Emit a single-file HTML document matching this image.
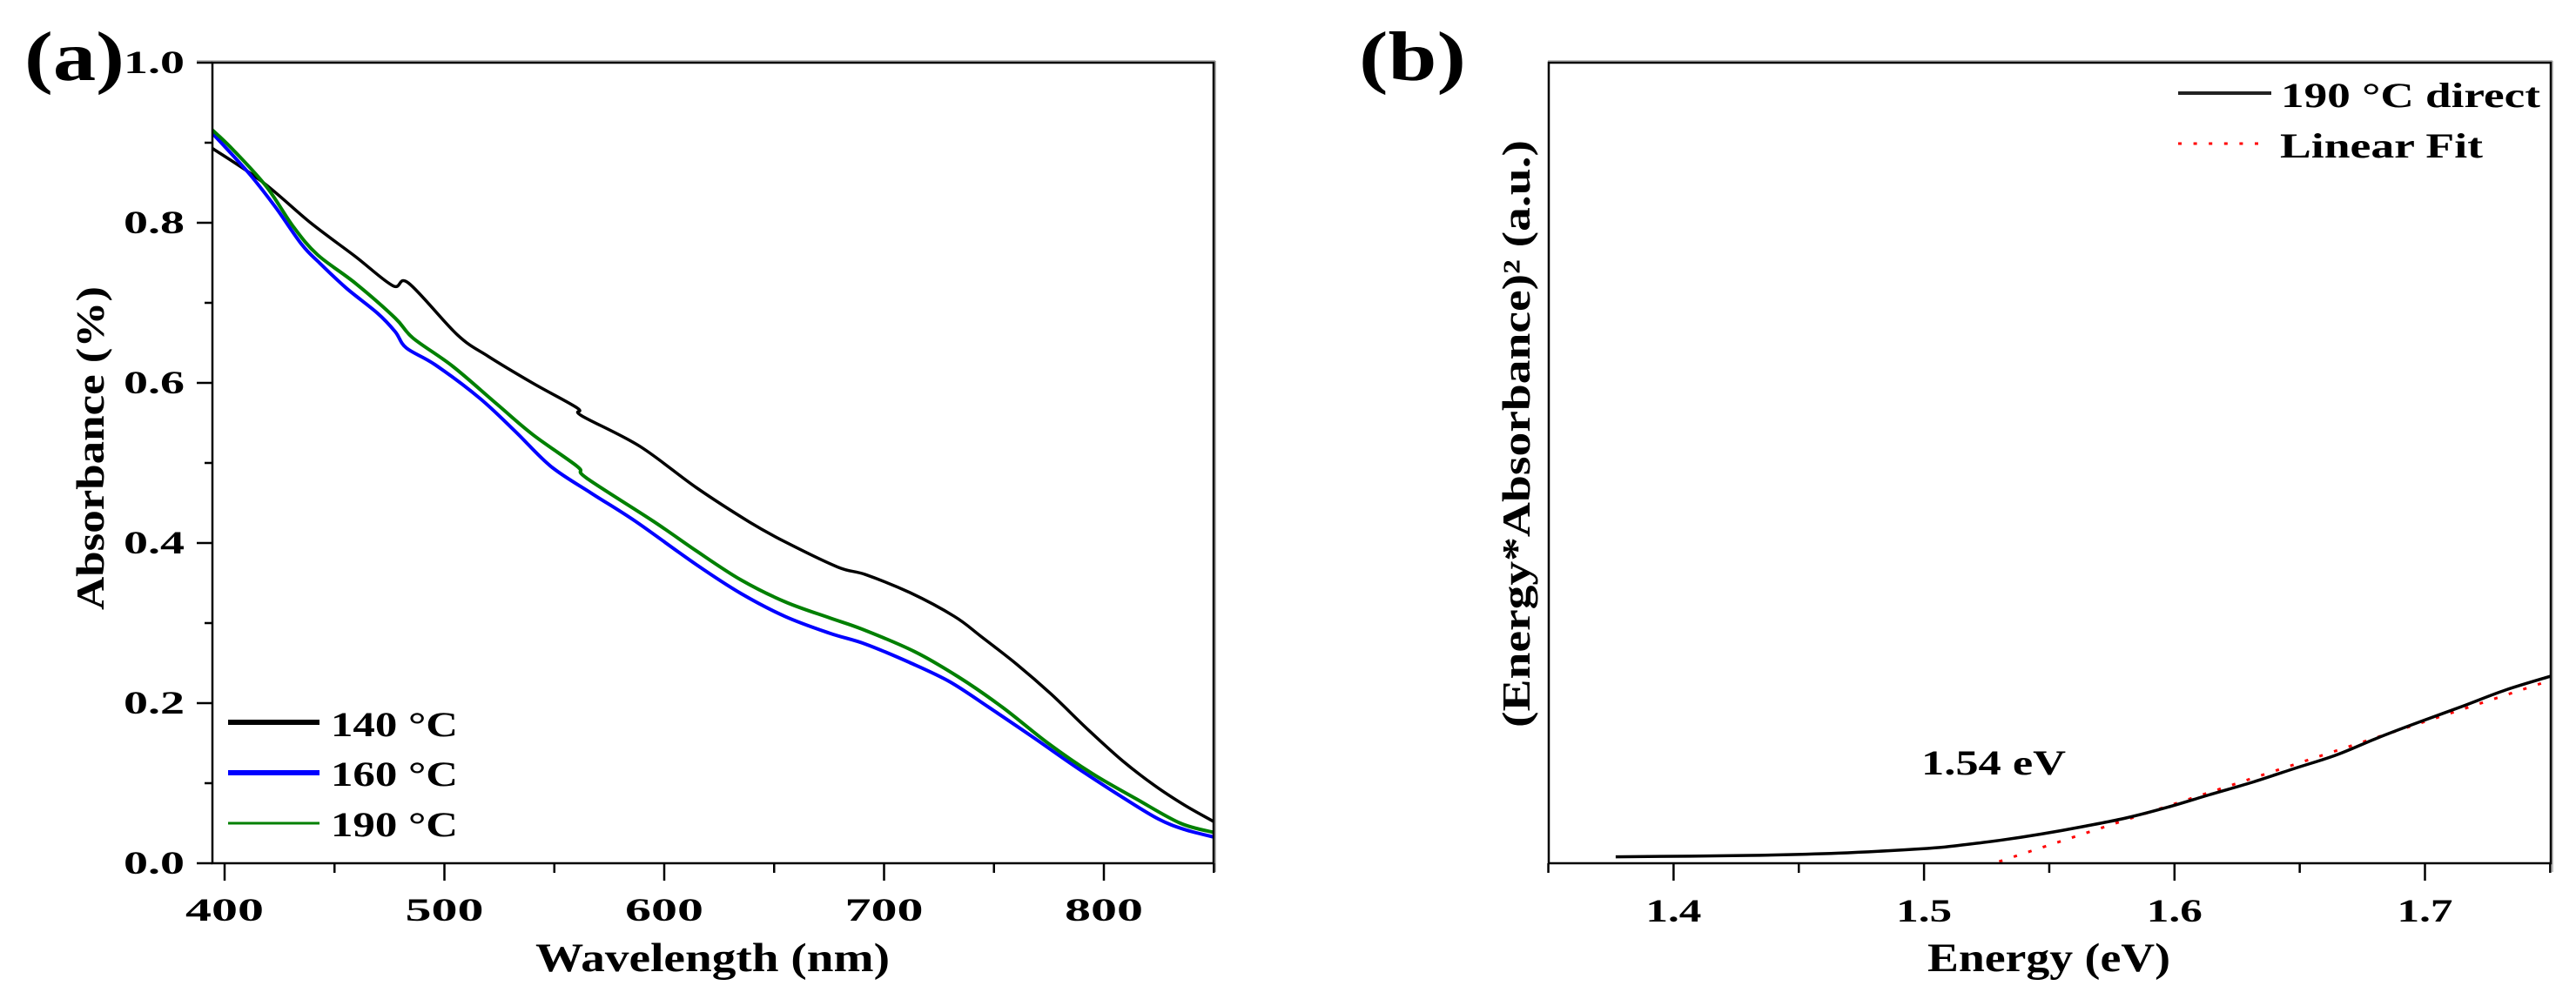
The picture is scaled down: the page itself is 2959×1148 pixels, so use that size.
<!DOCTYPE html>
<html lang="en">
<head>
<meta charset="utf-8">
<title>Absorbance spectra and Tauc plot</title>
<style>
html,body{margin:0;padding:0;background:#fff;width:2959px;height:1148px;overflow:hidden}
svg{display:block}
text{font-family:"Liberation Serif","DejaVu Serif",serif;font-weight:bold;fill:#000}
</style>
</head>
<body>
<svg id="figure" xmlns="http://www.w3.org/2000/svg" width="2959" height="1148" viewBox="0 0 2959 1148">
<defs>
<clipPath id="clip-a"><rect x="244" y="72" width="1150" height="920"/></clipPath>
<clipPath id="clip-b"><rect x="1779" y="72" width="1151" height="920"/></clipPath>
</defs>
<rect width="2959" height="1148" fill="#fff"/>
<text x="28" y="92" font-size="80" textLength="115" lengthAdjust="spacingAndGlyphs">(a)</text>
<text x="1561" y="92" font-size="80" textLength="123" lengthAdjust="spacingAndGlyphs">(b)</text>
<text x="615" y="1116" font-size="47" textLength="407" lengthAdjust="spacingAndGlyphs">Wavelength (nm)</text>
<text x="2214" y="1116" font-size="47" textLength="279" lengthAdjust="spacingAndGlyphs">Energy (eV)</text>
<text transform="translate(119 701) rotate(-90)" font-size="45" textLength="372" lengthAdjust="spacingAndGlyphs">Absorbance (%)</text>
<text transform="translate(1757 836) rotate(-90)" font-size="45" textLength="675" lengthAdjust="spacingAndGlyphs">(Energy*Absorbance)² (a.u.)</text>
<text x="2207" y="890" font-size="40" textLength="166" lengthAdjust="spacingAndGlyphs">1.54 eV</text>

<g>
<line x1="226" x2="1396" y1="70" y2="70" stroke="#aaa" stroke-width="1.5"/>
<line x1="1396" x2="1396" y1="70" y2="1002" stroke="#999" stroke-width="1.5"/>
<line x1="1778" x2="2932" y1="70" y2="70" stroke="#aaa" stroke-width="1.5"/>
<line x1="2932" x2="2932" y1="70" y2="1002" stroke="#aaa" stroke-width="1.5"/>
</g>

<g>
<line x1="262" x2="367" y1="830" y2="830" stroke="#000" stroke-width="6"/>
<text x="380" y="846" font-size="40" textLength="146" lengthAdjust="spacingAndGlyphs">140 °C</text>
<line x1="262" x2="367" y1="888" y2="888" stroke="#0000ff" stroke-width="6"/>
<text x="380" y="903" font-size="40" textLength="146" lengthAdjust="spacingAndGlyphs">160 °C</text>
<line x1="262" x2="367" y1="946" y2="946" stroke="#008000" stroke-width="3"/>
<text x="380" y="961" font-size="40" textLength="146" lengthAdjust="spacingAndGlyphs">190 °C</text>
</g>
<g>
<line x1="2502" x2="2609" y1="107" y2="107" stroke="#222" stroke-width="4"/>
<text x="2620" y="123" font-size="40" textLength="298" lengthAdjust="spacingAndGlyphs">190 °C direct</text>
<line x1="2502" x2="2602" y1="165" y2="165" stroke="#ff0000" stroke-width="3" stroke-dasharray="4 13.6"/>
<text x="2619" y="181" font-size="40" textLength="233" lengthAdjust="spacingAndGlyphs">Linear Fit</text>
</g>
</svg>
<script>
// Panel (a): wavelength (nm) and absorbance per series
const wavelengths140 = [394.4,417,439.3,459.4,476.6,483.7,505.9,520,540,560.4,562.4,588.8,614.7,638.9,655,679,691.5,711.8,731.9,744,760,776,792.5,808.6,822.8,836.8,850];
const absorbance140  = [.893,.8515,.7996,.758,.7213,.7247,.660,.633,.600,.5687,.559,.521,.469,.426,.4014,.3699,.3606,.338,.3085,.2836,.2493,.2113,.1676,.1277,.0976,.0724,.052];
const wavelengths160 = [394.4,411,423,435.2,443.3,455.4,469.6,477.6,482.7,495.8,516,532.2,548.4,566.6,586.8,614.7,634.9,655,675.2,691.5,711.8,730,748,768.3,788.4,808.6,824.8,836.9,850];
const absorbance160  = [.912,.862,.820,.7725,.7496,.7183,.687,.664,.6436,.6226,.581,.5395,.4958,.4626,.4273,.3728,.337,.3083,.2874,.2738,.2505,.2265,.1942,.1564,.1181,.0822,.0553,.042,.0327];
const wavelengths190 = [394.4,403.9,419,431.2,442.3,459.4,477.6,485.7,503.8,524.1,540.2,560.4,564.6,595,614.7,634.9,655,675.2,690,713.7,733.9,754,774.3,794.4,814.7,834.8,850];
const absorbance190  = [.916,.8911,.8452,.7953,.760,.7247,.681,.656,.6207,.5729,.5354,.4958,.4813,.4273,.390,.3539,.3265,.3065,.2924,.2646,.2326,.1946,.1505,.1125,.0804,.05,.0385];
const xTicksA = [400,500,600,700,800];
const xMinorA = [450,550,650,750,850];
const yTicksA = ['0.0','0.2','0.4','0.6','0.8','1.0'];
const yMinorA = [0.1,0.3,0.5,0.7,0.9];

// Panel (b): photon energy (eV) and Tauc value (a.u.)
const energy = [1.3769,1.4304,1.4659,1.5013,1.5132,1.5302,1.5469,1.5639,1.5806,1.5973,1.6143,1.631,1.648,1.6647,1.6814,1.6984,1.7151,1.7321,1.75];
const tauc   = [.008,.0098,.0126,.0185,.0221,.0286,.0365,.0461,.0565,.07,.0859,.1011,.1185,.1353,.157,.1772,.1962,.2163,.2335];
const fitEnergy = [1.53,1.75];
const fitTauc   = [.0022,.2284];
const xTicksB = ['1.4','1.5','1.6','1.7'];
const xMinorB = [1.35,1.45,1.55,1.65,1.75];

const NS = 'http://www.w3.org/2000/svg';
const svg = document.getElementById('figure');
const xA = w => 258 + 2.525 * (w - 400);
const yVal = v => 992 - 920 * v;
const xB = e => 1922.4 + 2877 * (e - 1.4);

function make(tag, props, parent) {
  const el = document.createElementNS(NS, tag);
  for (const k in props) el.setAttribute(k, props[k]);
  (parent || svg).appendChild(el);
  return el;
}
// Smooth Catmull-Rom path through the mapped data points
function pathFrom(xs, ys, xf) {
  const p = xs.map((x, i) => [xf(x), yVal(ys[i])]);
  let d = 'M' + p[0][0].toFixed(1) + ' ' + p[0][1].toFixed(1);
  for (let i = 0; i < p.length - 1; i++) {
    const a = p[Math.max(i - 1, 0)], b = p[i], c = p[i + 1], e = p[Math.min(i + 2, p.length - 1)];
    const c1x = b[0] + (c[0] - a[0]) / 6, c1y = b[1] + (c[1] - a[1]) / 6;
    const c2x = c[0] - (e[0] - b[0]) / 6, c2y = c[1] - (e[1] - b[1]) / 6;
    d += 'C' + [c1x, c1y, c2x, c2y, c[0], c[1]].map(n => n.toFixed(1)).join(' ');
  }
  return d;
}
function tick(x1, y1, x2, y2, name, w) {
  const el = make('line', {x1, y1, x2, y2, stroke: '#000', 'stroke-width': w || 2.5});
  
  
}
function label(str, x, y, anchor, len, name) {
  const el = make('text', {x, y, 'text-anchor': anchor, 'font-size': 37, textLength: len, lengthAdjust: 'spacingAndGlyphs'});
  el.textContent = str;
  
  
}

// Series, panel (a)
[[wavelengths140, absorbance140, '#000', 3.5, 'series-140'],
 [wavelengths160, absorbance160, '#0000ff', 4, 'series-160'],
 [wavelengths190, absorbance190, '#008000', 4, 'series-190']].forEach(s => {
  const el = make('path', {d: pathFrom(s[0], s[1], xA), fill: 'none', stroke: s[2], 'stroke-width': s[3], 'clip-path': 'url(#clip-a)', 'stroke-linejoin': 'round'});
  
  
});

// Series, panel (b)
const fitPath = make('path', {d: pathFrom(fitEnergy, fitTauc, xB), fill: 'none', stroke: '#ff0000', 'stroke-width': 3, 'stroke-dasharray': '4 13.6', 'clip-path': 'url(#clip-b)'});


const taucPath = make('path', {d: pathFrom(energy, tauc, xB), fill: 'none', stroke: '#000', 'stroke-width': 3.5, 'clip-path': 'url(#clip-b)', 'stroke-linejoin': 'round'});



// Frames
const frameA = make('rect', {x: 244, y: 72, width: 1150, height: 920, fill: 'none', stroke: '#000', 'stroke-width': 2.5});


const frameB = make('rect', {x: 1779, y: 72, width: 1151, height: 920, fill: 'none', stroke: '#000', 'stroke-width': 2.5});



// Axes, panel (a)
xTicksA.forEach(t => {
  tick(xA(t), 992, xA(t), 1012, 'x-tick-a');
  label(String(t), xA(t), 1058, 'middle', 90, 'x-tick-label-a');
});
xMinorA.forEach(t => tick(xA(t), 992, xA(t), 1003, 'x-minor-tick-a'));
yTicksA.forEach(t => {
  tick(226, yVal(+t), 244, yVal(+t), 'y-tick-a');
  label(t, 212, yVal(+t) + 12, 'end', 70, 'y-tick-label-a');
});
yMinorA.forEach(t => tick(235, yVal(t), 244, yVal(t), 'y-minor-tick-a'));

// Axes, panel (b)
xTicksB.forEach(t => {
  tick(xB(+t), 992, xB(+t), 1012, 'x-tick-b');
  label(t, xB(+t), 1059, 'middle', 64, 'x-tick-label-b');
});
xMinorB.forEach(t => tick(xB(t), 992, xB(t), 1003, 'x-minor-tick-b'));
</script>
</body>
</html>
